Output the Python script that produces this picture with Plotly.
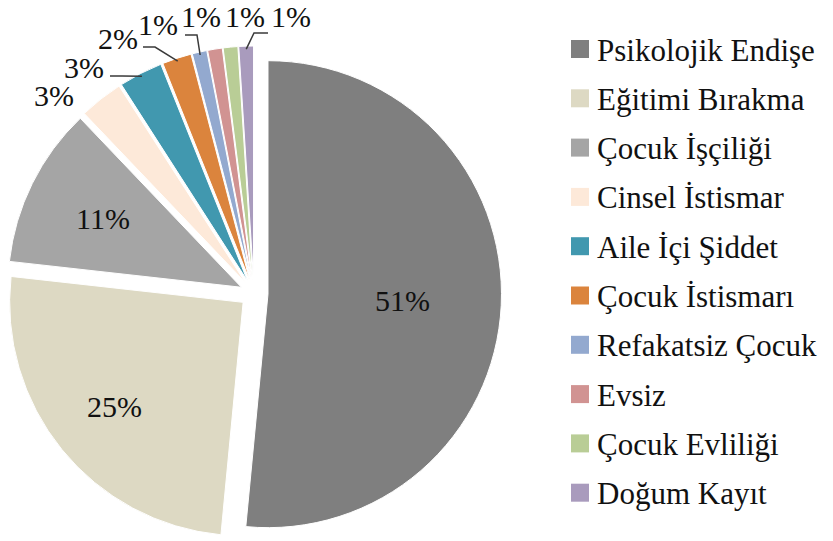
import math
import plotly.graph_objects as go

# ---------------- data ----------------
categories = [
    "Psikolojik Endişe", "Eğitimi Bırakma", "Çocuk İşçiliği", "Cinsel İstismar",
    "Aile İçi Şiddet", "Çocuk İstismarı", "Refakatsiz Çocuk", "Evsiz",
    "Çocuk Evliliği", "Doğum Kayıt",
]
values = [51, 25, 11, 3, 3, 2, 1, 1, 1, 1]
percent_labels = ["51%", "25%", "11%", "3%", "3%", "2%", "1%", "1%", "1%", "1%"]

# ---------------- style / layout ----------------
colors = ["#7f7f7f", "#ddd9c3", "#a5a5a5", "#fde9d9", "#4198af",
          "#db843d", "#93a9cf", "#d19392", "#b9cd96", "#a99bbd"]
W, H = 833, 541
PULL = 0.06
CX, CY = 254.0, 293.5          # pie centre in pixels (from top-left)
HALF = 247.5                   # half size of the pie domain box in pixels
R = HALF / (1 + PULL)          # plotly's radius rule
D = R * PULL                   # pull distance
FONT = "Liberation Serif"
LABEL_SIZE = 30
LEGEND_SIZE = 31

# inside labels: fraction of radius from the (pulled) apex
inside_frac = {0: 0.575, 1: 0.71, 2: 0.66}
# outside labels: text centre in pixels
outside_pos = {3: (54, 95), 4: (84, 67), 5: (118, 38), 6: (158, 24),
               7: (201, 16), 8: (245, 16), 9: (291, 16)}
# leader lines: start offset from label centre and horizontal elbow length
leader = {4: ((26, 9), 12), 5: ((25, 9), 12), 6: ((27, 11), 12), 9: ((-23, 17), -14)}

legend_x, legend_y0, legend_pitch, sw = 571, 49, 49.3, 18


def px(x):
    return x / W


def py(y):
    return 1 - y / H


fig = go.Figure(go.Pie(
    labels=categories, values=values, sort=False, direction="clockwise",
    rotation=0, pull=[PULL] * len(values), textinfo="none",
    marker=dict(colors=colors, line=dict(color="white", width=1)),
    domain=dict(x=[px(CX - HALF), px(CX + HALF)],
                y=[max(0, py(CY + HALF)), py(CY - HALF)]),
    showlegend=False, hoverinfo="label+percent",
))

total = sum(values)
annotations = []
shapes = []
cum = 0
for i, v in enumerate(values):
    mid = math.radians((cum + v / 2) / total * 360)
    cum += v
    ux, uy = math.sin(mid), -math.cos(mid)
    ax, ay = CX + D * ux, CY + D * uy          # pulled apex
    if i in inside_frac:
        f = inside_frac[i] * R
        tx, ty = ax + f * ux, ay + f * uy
    else:
        tx, ty = outside_pos[i]
        if i in leader:
            (ox, oy), elbow = leader[i]
            sx, sy = tx + ox, ty + oy
            ex, ey = sx + elbow, sy
            endx, endy = ax + (R - 3) * ux, ay + (R - 3) * uy
            path = f"M{px(sx)},{py(sy)} L{px(ex)},{py(ey)} L{px(endx)},{py(endy)}"
            shapes.append(dict(type="path", xref="paper", yref="paper", path=path,
                               line=dict(color="#3a3a3a", width=1.5)))
    annotations.append(dict(x=px(tx), y=py(ty), xref="paper", yref="paper",
                            text=percent_labels[i], showarrow=False,
                            xanchor="center", yanchor="middle",
                            font=dict(family=FONT, size=LABEL_SIZE, color="#111111")))

# manual legend
for i, name in enumerate(categories):
    cy = legend_y0 + i * legend_pitch
    shapes.append(dict(type="rect", xref="paper", yref="paper",
                       x0=px(legend_x), x1=px(legend_x + sw),
                       y0=py(cy + sw / 2), y1=py(cy - sw / 2),
                       fillcolor=colors[i], line=dict(width=0)))
    annotations.append(dict(x=px(legend_x + sw + 6), y=py(cy + 1), xref="paper", yref="paper",
                            text=name, showarrow=False, xanchor="left", yanchor="middle",
                            font=dict(family=FONT, size=LEGEND_SIZE, color="#111111")))

fig.update_layout(
    width=W, height=H, margin=dict(l=0, r=0, t=0, b=0),
    paper_bgcolor="white", plot_bgcolor="white",
    font=dict(family=FONT),
    annotations=annotations, shapes=shapes,
)
fig.write_html("out.html", config={"displayModeBar": False},
               post_script="document.body.style.margin='0px';")
